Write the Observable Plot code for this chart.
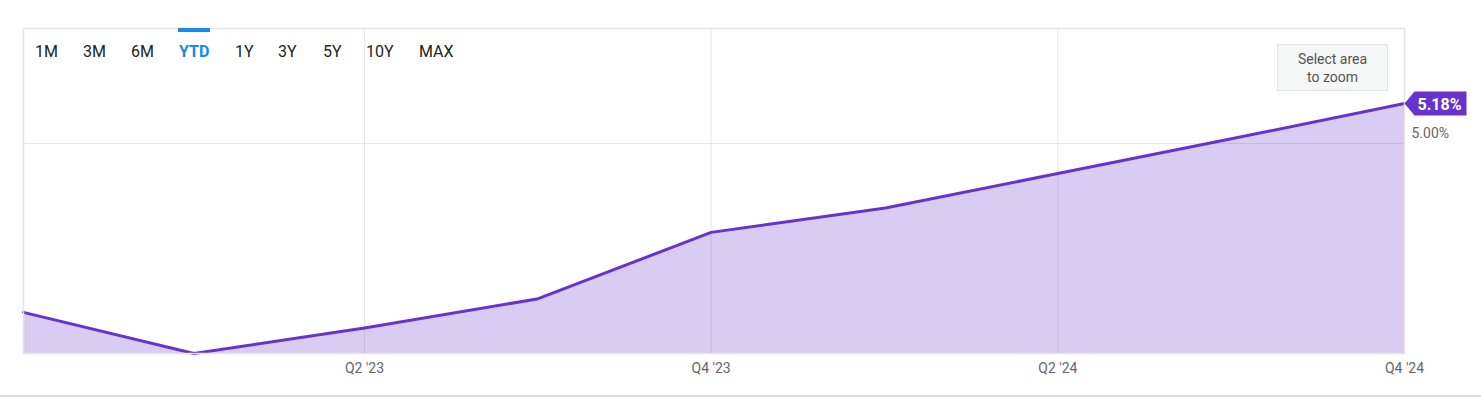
<!DOCTYPE html>
<html>
<head>
<meta charset="utf-8">
<script src="https://cdn.jsdelivr.net/npm/d3@7"></script>
<script src="https://cdn.jsdelivr.net/npm/@observablehq/plot@0.6"></script>
<style>
  html, body { margin: 0; padding: 0; background: #fff; }
  #wrap { position: relative; width: 1481px; height: 398px; font-family: Roboto, "Noto Sans", sans-serif; }
  #wrap svg { position: absolute; left: 0; top: 0; }
  .btn { position: absolute; top: 42px; font-size: 16px; color: #222; line-height: 20px; }
  .btn.active { color: #1a88e6; font-weight: bold; }
  #bar { position: absolute; left: 178px; top: 28px; width: 32px; height: 4px; background: #1a88e6; }
  #zoombox { position: absolute; left: 1277px; top: 44px; width: 109px; height: 45px; background: #f5f6f6;
    border: 1px solid #e2e3e3; color: #555; font-size: 14px; line-height: 18px; text-align: center;
    display: flex; align-items: center; justify-content: center; }
  #bottomline { position: absolute; left: 0; top: 395px; width: 1481px; height: 2px; background: #dcdcdc; }
</style>
</head>
<body>
<div id="wrap"></div>
<script>
// Data (quarterly)
const dates = ["2022-10-03", "2023-01-01", "2023-04-01", "2023-07-01", "2023-10-01",
               "2024-01-01", "2024-04-01", "2024-07-01", "2024-10-01"];
const values = [4.24, 4.055, 4.17, 4.30, 4.60, 4.71, 4.865, 5.02, 5.18];
const tickDates = ["2023-04-01", "2023-10-01", "2024-04-01", "2024-10-01"];
const yTicks = [5.00];
const ranges = ["1M", "3M", "6M", "YTD", "1Y", "3Y", "5Y", "10Y", "MAX"];
const activeRange = "YTD";

const data = dates.map((d, i) => ({date: new Date(d), value: values[i]}));
const ticks = tickDates.map(d => new Date(d));
const yMin = 4.055, yMax = 5.5175;
const last = data[data.length - 1];

const qFmt = d => "Q" + (Math.floor(d.getUTCMonth() / 3) + 1) + " '" + String(d.getUTCFullYear()).slice(2);

const tagSymbol = {
  draw(ctx) {
    ctx.moveTo(0, 0);
    ctx.lineTo(10, -12);
    ctx.lineTo(62, -12);
    ctx.lineTo(62, 12);
    ctx.lineTo(10, 12);
    ctx.closePath();
  }
};

const chart = Plot.plot({
  width: 1481,
  height: 398,
  marginLeft: 23,
  marginRight: 77,
  marginTop: 28,
  marginBottom: 45,
  style: {fontFamily: "Roboto, sans-serif", fontSize: "14px", color: "#666", background: "transparent"},
  x: {type: "utc", domain: [data[0].date, last.date], label: null},
  y: {domain: [yMin, yMax], label: null},
  marks: [
    Plot.gridX(ticks, {stroke: "#e6e6e6", strokeOpacity: 1}),
    Plot.gridY(yTicks, {stroke: "#e6e6e6", strokeOpacity: 1}),
    Plot.areaY(data, {x: "date", y1: () => yMin, y2: "value", fill: "#6633cc", fillOpacity: 0.25}),
    Plot.line(data, {x: "date", y: "value", stroke: "#6633cc", strokeWidth: 3}),
    Plot.frame({stroke: "#e4e4e4", strokeWidth: 1.5}),
    Plot.axisX(ticks, {tickSize: 0, tickPadding: 10, tickFormat: qFmt, fill: "#666", fontSize: 14, label: null}),
    Plot.axisY(yTicks, {anchor: "right", tickSize: 0, tickPadding: 7, tickFormat: d => d.toFixed(2) + "%",
      textAnchor: "start", dy: -10, fill: "#666", fontSize: 14, label: null}),
    Plot.dot([last], {x: "date", y: "value", symbol: tagSymbol, fill: "#6633cc", stroke: null}),
    Plot.text([last], {x: "date", y: "value", text: d => d.value.toFixed(2) + "%", dx: 35, dy: 1,
      fill: "white", fontWeight: "bold", fontSize: 16})
  ]
});

const wrap = document.getElementById("wrap");
wrap.appendChild(chart);

const lefts = [35, 83, 131, 179, 235, 278, 323, 366, 419];
ranges.forEach((r, i) => {
  const s = document.createElement("span");
  s.className = "btn" + (r === activeRange ? " active" : "");
  s.style.left = lefts[i] + "px";
  s.textContent = r;
  wrap.appendChild(s);
});
const bar = document.createElement("div"); bar.id = "bar"; wrap.appendChild(bar);
const zb = document.createElement("div"); zb.id = "zoombox"; zb.innerHTML = "Select area<br>to zoom"; wrap.appendChild(zb);
const bl = document.createElement("div"); bl.id = "bottomline"; wrap.appendChild(bl);
</script>
</body>
</html>
